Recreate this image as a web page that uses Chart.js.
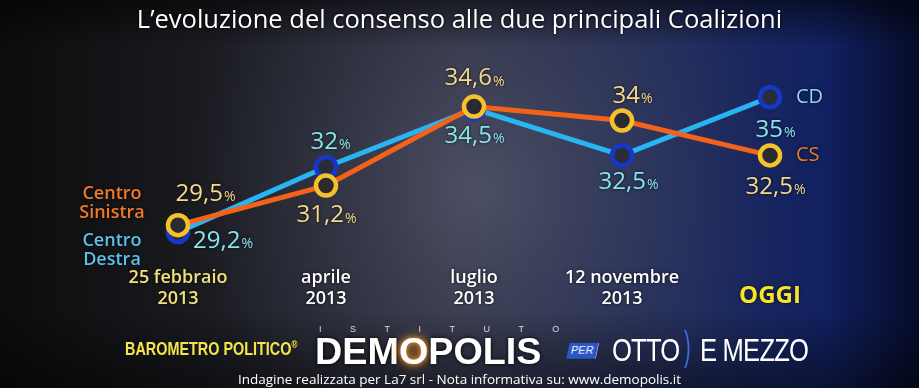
<!DOCTYPE html>
<html><head><meta charset="utf-8">
<script src="https://cdn.jsdelivr.net/npm/chart.js@4.4.1/dist/chart.umd.min.js"></script>
<style>
html,body{margin:0;padding:0;background:#111;overflow:hidden}
#wrap{position:relative;width:919px;height:388px;overflow:hidden}
canvas{position:absolute;left:0;top:0}
.t{position:absolute;white-space:nowrap;font-family:"Open Sans","Noto Sans",sans-serif;line-height:1}
</style></head><body>
<div id="wrap">
<canvas id="c" width="919" height="388"></canvas>
<div class="t" style="left:0;width:919px;top:6px;text-align:center;color:#fff;font-size:25.5px;text-shadow:0 0 3px #000">L’evoluzione del consenso alle due principali Coalizioni</div>
<div class="t" style="left:125px;top:340px;color:#f4e64a;font-family:'Liberation Sans Narrow','Liberation Sans',sans-serif;font-weight:bold;font-size:18px;transform:scaleX(0.8);transform-origin:left">BAROMETRO POLITICO<sup style="font-size:10px">®</sup></div>
<div class="t" style="left:319px;top:325px;color:#ddd;font-size:9px;letter-spacing:28.5px;font-family:'Liberation Sans',sans-serif">ISTITUTO</div>
<div class="t" style="left:315px;top:333px;color:#fff;font-size:37px;font-weight:bold;font-family:'Liberation Sans','DejaVu Sans',sans-serif;letter-spacing:0px;text-shadow:0 0 4px #000;transform:scaleX(1.02);transform-origin:left">DEM<span style="text-shadow:0 0 12px #f08a1a,0 0 5px #f0a030">O</span>POLIS</div>
<div class="t" style="left:568px;top:343px;color:#fff;font-size:11px;background:#2a57c8;padding:2px 3px;font-family:'Liberation Sans',sans-serif;transform:skewX(-12deg)">PER</div>
<div class="t" style="left:612px;top:334px;color:#fff;font-size:32px;font-family:'Liberation Sans',sans-serif;transform:scaleX(0.8);transform-origin:left;letter-spacing:-1px">OTTO</div>
<div class="t" style="left:684px;top:326px;color:#3c6de0;font-size:40px;font-family:'Liberation Sans',sans-serif;transform:scaleX(0.5);transform-origin:left">)</div>
<div class="t" style="left:700px;top:334px;color:#fff;font-size:32px;font-family:'Liberation Sans',sans-serif;transform:scaleX(0.8);transform-origin:left;letter-spacing:-1px">E MEZZO</div>
<div class="t" style="left:0;width:919px;top:373px;text-align:center;color:#fff;font-size:13.5px">Indagine realizzata per La7 srl - Nota informativa su: www.demopolis.it</div>
</div>
<script>
// ---- data ----
const categories = [["25 febbraio","2013"],["aprile","2013"],["luglio","2013"],["12 novembre","2013"],["OGGI"]];
const centroSinistra = [29.5, 31.2, 34.6, 34, 32.5];
const centroDestra = [29.2, 32, 34.5, 32.5, 35];
const seriesNames = ["Centro Sinistra", "Centro Destra"];
const seriesShort = ["CS", "CD"];

function fmt(v){ return String(v).replace('.', ','); }

const bgPlugin = {
  id: 'bg',
  beforeDraw(chart){
    const ctx = chart.ctx, w = chart.width, h = chart.height;
    ctx.save();
    let g = ctx.createLinearGradient(0,0,w,0);
    g.addColorStop(0,'#0c0c0d');
    g.addColorStop(0.22,'#1a1b20');
    g.addColorStop(0.5,'#33364a');
    g.addColorStop(0.75,'#202c5e');
    g.addColorStop(0.9,'#112060');
    g.addColorStop(1,'#070c2a');
    ctx.fillStyle = g; ctx.fillRect(0,0,w,h);
    let r = ctx.createRadialGradient(480,190,10,480,190,300);
    r.addColorStop(0,'rgba(95,98,118,0.55)');
    r.addColorStop(1,'rgba(60,62,80,0)');
    ctx.fillStyle = r; ctx.fillRect(0,0,w,h);
    let v = ctx.createLinearGradient(0,0,0,h);
    v.addColorStop(0,'rgba(0,0,0,0.55)');
    v.addColorStop(0.12,'rgba(0,0,0,0)');
    v.addColorStop(0.8,'rgba(0,0,0,0)');
    v.addColorStop(1,'rgba(0,0,0,0.45)');
    ctx.fillStyle = v; ctx.fillRect(0,0,w,h);
    ctx.restore();
  }
};

const valueOffsets = [
  [[27,-31],[0,30],[0,-28],[10,-24],[5,32]],
  [[32,9],[4,-25],[0,27],[6,27],[5,33]]
];
const valueColors = ['#f6d98a','#86e6ec'];

const labelPlugin = {
  id: 'labels',
  afterDatasetsDraw(chart){
    const ctx = chart.ctx;
    ctx.save();
    ctx.textBaseline = 'middle';
    ctx.shadowColor = 'rgba(0,0,0,0.8)'; ctx.shadowBlur = 3;
    chart.data.datasets.forEach((ds, di) => {
      const meta = chart.getDatasetMeta(di);
      meta.data.forEach((pt, i) => {
        const [dx, dy] = valueOffsets[di][i];
        const num = fmt(ds.data[i]);
        ctx.font = '24px "Open Sans", sans-serif';
        const w1 = ctx.measureText(num).width;
        ctx.font = '14px "Open Sans", sans-serif';
        const w2 = ctx.measureText('%').width;
        let x0 = pt.x + dx - (w1 + w2)/2;
        if (di === 1 && i === 0) x0 = pt.x + 15;
        const y = pt.y + dy;
        ctx.fillStyle = valueColors[di];
        ctx.textAlign = 'left';
        ctx.font = '24px "Open Sans", sans-serif';
        ctx.fillText(num, x0, y);
        ctx.font = '14px "Open Sans", sans-serif';
        ctx.fillText('%', x0 + w1 + 1, y + 3);
      });
    });
    const ms = chart.getDatasetMeta(0).data, md = chart.getDatasetMeta(1).data;
    ctx.textAlign = 'center';
    ctx.font = '600 18px "Open Sans", sans-serif';
    ctx.fillStyle = '#f07a2a';
    const s = seriesNames[0].split(' ');
    ctx.fillText(s[0], 112, ms[0].y - 31);
    ctx.fillText(s[1], 112, ms[0].y - 12);
    ctx.fillStyle = '#5cc0ea';
    const d = seriesNames[1].split(' ');
    ctx.fillText(d[0], 112, md[0].y + 9);
    ctx.fillText(d[1], 112, md[0].y + 28);
    ctx.textAlign = 'left';
    ctx.font = '20px "Open Sans", sans-serif';
    ctx.fillStyle = '#f07a2a';
    ctx.fillText(seriesShort[0], ms[4].x + 26, ms[4].y);
    ctx.fillStyle = '#8fd6f2';
    ctx.fillText(seriesShort[1], md[4].x + 26, md[4].y);
    const xs = chart.scales.x;
    ctx.textAlign = 'center';
    categories.forEach((c, i) => {
      const x = xs.getPixelForValue(i);
      if (c.length === 1) {
        ctx.font = 'bold 24px "Open Sans", sans-serif';
        ctx.fillStyle = '#f6e626';
        ctx.fillText(c[0], x, 296);
      } else {
        ctx.font = '600 18px "Open Sans", sans-serif';
        ctx.fillStyle = i === 0 ? '#f3e27a' : '#ffffff';
        ctx.fillText(c[0], x, 278);
        ctx.fillText(c[1], x, 299);
      }
    });
    ctx.restore();
  }
};

new Chart(document.getElementById('c'), {
  type: 'line',
  data: {
    labels: categories.map(c => c.join(' ')),
    datasets: [
      { label: seriesNames[0], data: centroSinistra, borderColor: '#f2621a', borderWidth: 5,
        pointRadius: 10, pointBorderWidth: 4.5, pointBorderColor: '#f5c22c', pointBackgroundColor: '#2a2a30', tension: 0 },
      { label: seriesNames[1], data: centroDestra, borderColor: '#29b4f2', borderWidth: 5,
        pointRadius: 10, pointBorderWidth: 4.5, pointBorderColor: '#1638c8', pointBackgroundColor: '#2a2c3a', tension: 0 }
    ]
  },
  options: {
    responsive: false, animation: false, devicePixelRatio: 1,
    layout: { padding: { left: 178, right: 149, top: 74, bottom: 128 } },
    plugins: { legend: { display: false }, tooltip: { enabled: false } },
    scales: {
      x: { display: false, offset: false },
      y: { display: false, min: 28, max: 36 }
    }
  },
  plugins: [bgPlugin, labelPlugin]
});
</script>
</body></html>
